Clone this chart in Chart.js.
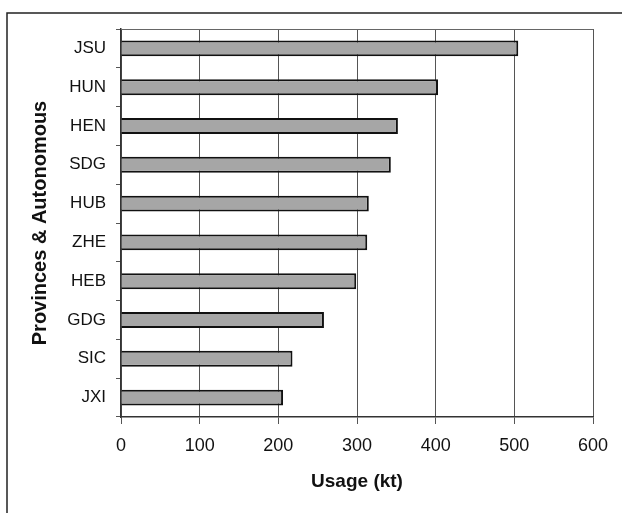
<!DOCTYPE html>
<html>
<head>
<meta charset="utf-8">
<script src="https://cdn.jsdelivr.net/npm/chart.js@4"></script>
<style>
  html, body { margin: 0; padding: 0; background: #fff; }
  #wrap { width: 622px; height: 513px; position: relative; }
</style>
</head>
<body>
<div id="wrap"><canvas id="grafico"></canvas></div>
<script>
const provincias = ["JSU", "HUN", "HEN", "SDG", "HUB", "ZHE", "HEB", "GDG", "SIC", "JXI"];
const consumo = [505, 403, 352, 343, 315, 313, 299, 258, 218, 206];
const ticksX = [0, 100, 200, 300, 400, 500, 600];

// marco exterior y borde superior del area de trazado
const marco = {
    id: "marco",
    afterDraw(chart) {
        const ctx = chart.ctx;
        const area = chart.chartArea;
        ctx.save();
        ctx.strokeStyle = "#222";
        ctx.lineWidth = 1.5;
        ctx.beginPath();
        ctx.moveTo(7, 513);
        ctx.lineTo(7, 13);
        ctx.lineTo(622, 13);
        ctx.stroke();
        ctx.strokeStyle = "#666";
        ctx.lineWidth = 1;
        ctx.beginPath();
        ctx.moveTo(area.left, area.top + 0.5);
        ctx.lineTo(area.right + 0.5, area.top + 0.5);
        ctx.stroke();
        ctx.restore();
    }
};

new Chart(document.getElementById("grafico").getContext("2d"), {
    type: "bar",
    data: {
        labels: provincias,
        datasets: [{
            data: consumo,
            backgroundColor: "#a6a6a6",
            borderColor: "#111",
            borderWidth: 2,
            barPercentage: 0.41,
            categoryPercentage: 1
        }]
    },
    options: {
        indexAxis: "y",
        responsive: true,
        maintainAspectRatio: false,
        animation: false,
        layout: { padding: { left: 10, top: 29, right: 29, bottom: 20 } },
        plugins: {
            legend: { display: false },
            tooltip: { enabled: false }
        },
        scales: {
            x: {
                min: 0,
                max: 600,
                afterBuildTicks(scale) {
                    scale.ticks = ticksX.map(v => ({ value: v }));
                },
                afterFit(scale) { scale.height = 76; },
                grid: {
                    color: "#555",
                    lineWidth: 1,
                    tickLength: 7,
                    tickColor: "#555"
                },
                border: { color: "#333", width: 1.5 },
                ticks: {
                    color: "#111",
                    font: { family: "Liberation Sans", size: 18 },
                    padding: 11
                },
                title: {
                    display: true,
                    text: "Usage (kt)",
                    color: "#111",
                    font: { family: "Liberation Sans", size: 19, weight: "bold" },
                    padding: { top: 4, bottom: 0 }
                }
            },
            y: {
                afterFit(scale) { scale.width = 111; },
                grid: {
                    offset: true,
                    drawOnChartArea: false,
                    tickLength: 5,
                    tickColor: "#555"
                },
                border: { color: "#333", width: 1.5 },
                ticks: {
                    color: "#111",
                    font: { family: "Liberation Sans", size: 17 },
                    padding: 10
                },
                title: {
                    display: true,
                    text: "Provinces & Autonomous",
                    color: "#111",
                    font: { family: "Liberation Sans", size: 20, weight: "bold" },
                    padding: { top: 18, bottom: 0 }
                }
            }
        }
    },
    plugins: [marco]
});
</script>
</body>
</html>
